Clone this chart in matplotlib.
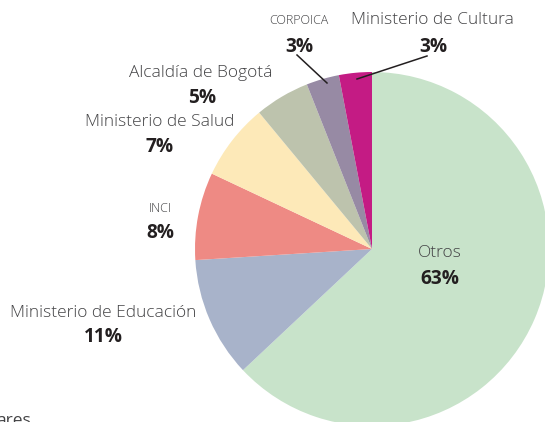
import matplotlib
matplotlib.use("Agg")
import matplotlib.pyplot as plt

categories = ["Otros", "Ministerio de Educación", "INCI", "Ministerio de Salud",
              "Alcaldía de Bogotá", "CORPOICA", "Ministerio de Cultura"]
values = [63, 11, 8, 7, 5, 3, 3]
colors = ["#c8e3ca", "#a8b3ca", "#ee8a84", "#fde9b8", "#bdc3ad", "#978aa4", "#c41b84"]

W, H = 545, 422
CX, CY, R = 372, 249, 177

def px(x, y):
    return ((x - CX) / R, (CY - y) / R)

plt.rcParams['font.family'] = ['Open Sans', 'DejaVu Sans']
fig = plt.figure(figsize=(W / 100, H / 100), dpi=100)
ax = fig.add_axes([0, 0, 1, 1])

ax.pie(values, colors=colors, startangle=90, counterclock=False, radius=1,
       center=(0, 0), wedgeprops=dict(linewidth=0), frame=True)
ax.set_xlim(-CX / R, (W - CX) / R)
ax.set_ylim(-(H - CY) / R, CY / R)
ax.set_aspect('auto')
ax.axis('off')

name_color = "#434345"
pct_color = "#231f20"
fs = 12.5
sc = 9
# label positions in pixels (name center, pct center, font size of name)
label_pos = {
    "Otros": ((440, 253), (440, 279), fs),
    "Ministerio de Educación": ((103, 313), (103, 337), fs),
    "INCI": ((160, 209), (160, 233), sc),
    "Ministerio de Salud": ((160, 122), (160, 147), fs),
    "Alcaldía de Bogotá": ((201, 73), (202, 98), fs),
    "CORPOICA": ((299, 21), (299, 47), sc),
    "Ministerio de Cultura": ((432, 20), (433, 47), fs),
}
for cat, v in zip(categories, values):
    (nx, ny), (qx, qy), f = label_pos[cat]
    ax.text(*px(nx, ny), cat, ha='center', va='center', fontsize=f,
            color=name_color, fontweight='light')
    ax.text(*px(qx, qy), f"{v}%", ha='center', va='center', fontsize=13.8,
            color=pct_color, fontweight='bold')

# leader lines
for (x0, y0), (x1, y1) in [((297, 55), (327, 83)), ((427, 56), (357, 79))]:
    a, b = px(x0, y0), px(x1, y1)
    ax.plot([a[0], b[0]], [a[1], b[1]], color="#231f20", lw=1.1)

# clipped text at bottom (cut off in the source figure as well)
ax.text(*px(-4, 425), "ares", ha='left', va='baseline', fontsize=fs, color=name_color)

fig.savefig("out.png", dpi=100)
